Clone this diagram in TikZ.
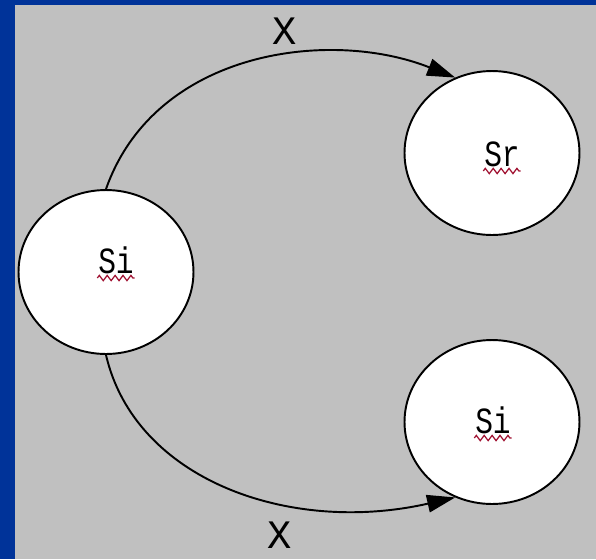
\documentclass[tikz,border=0pt]{standalone}
\usepackage{fontspec}
\setmonofont{Liberation Mono}
\newfontfamily\statefont{Liberation Mono}[FakeStretch=0.8]
\usepackage{tikz}
\usetikzlibrary{arrows.meta}
\usetikzlibrary{shapes}
\usetikzlibrary{decorations.pathmorphing}

\definecolor{slideblue}{HTML}{003399}
\definecolor{slidegrey}{HTML}{C0C0C0}
\definecolor{spellred}{HTML}{A01030}

\begin{document}
\begin{tikzpicture}[x=0.02cm, y=-0.02cm, line width=1.1pt,
    state/.style = {ellipse, draw, fill=white, minimum width=3.5cm, minimum height=3.28cm, inner sep=0pt},
    statename/.style = {font=\statefont\fontsize{21}{21}\selectfont, inner sep=0pt},
    symbol/.style = {font=\ttfamily\fontsize{23}{23}\selectfont, inner sep=0pt},
    move/.style = {-{Triangle[length=16pt, width=10pt]}},
    squiggle/.style = {spellred, line width=0.7pt, decorate,
                       decoration={zigzag, segment length=4.5pt, amplitude=1.5pt}}]
    % draw slide background
    \fill[slideblue] (0,0) rectangle (596,559);
    \fill[slidegrey] (15,5) rectangle (596,559);
    \useasboundingbox (0,0) rectangle (596,559);

    % draw states
    \node[state] (si) at (106,272) {};
    \node[state] (sr) at (492,153) {};
    \node[state] (sj) at (492,422) {};

    % names of the states
    \node[statename] (si-name) at (116,260) {Si};
    \node[statename] (sr-name) at (502,154) {Sr};
    \node[statename] (sj-name) at (493,420) {Si};

    % spell check marks
    \draw[squiggle] ([yshift=-2pt]si-name.south west) -- ([yshift=-2pt]si-name.south east);
    \draw[squiggle] ([yshift=-2pt]sr-name.south west) -- ([yshift=-2pt]sr-name.south east);
    \draw[squiggle] ([yshift=-2pt]sj-name.south west) -- ([yshift=-2pt]sj-name.south east);

    % draw transitions
    \draw[move] (si.north) .. controls (155,50) and (330,28) .. (sr.116);
    \draw[move] (si.south) .. controls (135,480) and (290,535) .. (sj.-116);

    % input symbols
    \node[symbol] (x-up) at (285,31) {X};
    \node[symbol] (x-down) at (280,535) {X};
\end{tikzpicture}
\end{document}
